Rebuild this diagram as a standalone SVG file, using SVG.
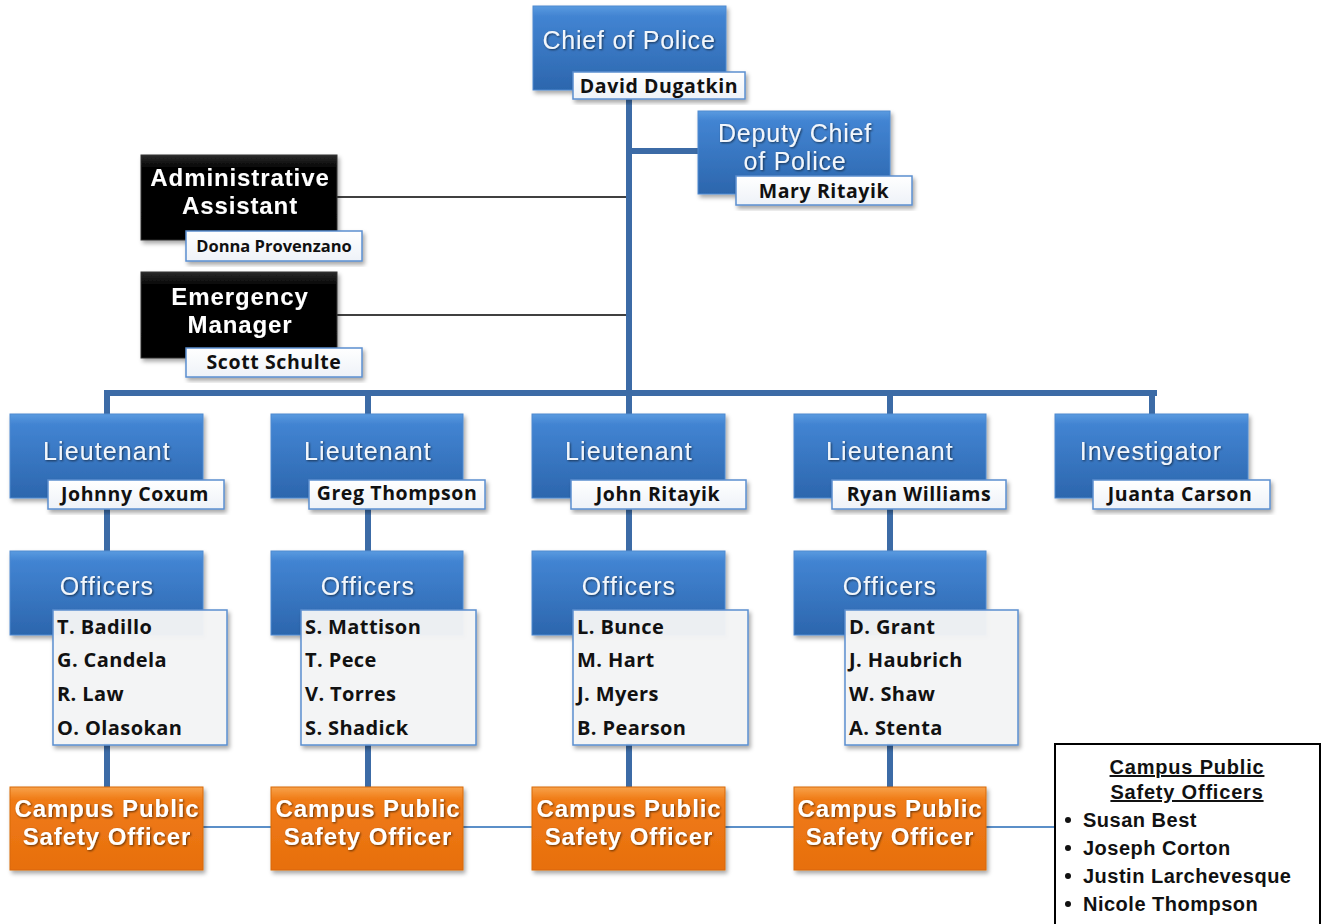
<svg xmlns="http://www.w3.org/2000/svg" width="1322" height="924" viewBox="0 0 1322 924">
<defs>
<linearGradient id="gBlue" x1="0" y1="0" x2="0" y2="1">
<stop offset="0" stop-color="#5a9be0"/>
<stop offset="0.12" stop-color="#4284d2"/>
<stop offset="1" stop-color="#2c66ad"/>
</linearGradient>
<linearGradient id="gBlack" x1="0" y1="0" x2="0" y2="1">
<stop offset="0" stop-color="#2a2a2a"/>
<stop offset="0.15" stop-color="#050505"/>
<stop offset="1" stop-color="#000"/>
</linearGradient>
<linearGradient id="gOrange" x1="0" y1="0" x2="0" y2="1">
<stop offset="0" stop-color="#f8a24a"/>
<stop offset="0.15" stop-color="#f07b16"/>
<stop offset="1" stop-color="#e76f0e"/>
</linearGradient>
<linearGradient id="gLabel" x1="0" y1="0" x2="0" y2="1">
<stop offset="0" stop-color="#ffffff"/>
<stop offset="1" stop-color="#eef2f8"/>
</linearGradient>
<filter id="sh" x="-10%" y="-10%" width="125%" height="130%">
<feDropShadow dx="2" dy="3" stdDeviation="2" flood-color="#000" flood-opacity="0.35"/>
</filter>
<filter id="tsh" x="-5%" y="-20%" width="115%" height="150%">
<feDropShadow dx="1" dy="1" stdDeviation="0.8" flood-color="#000" flood-opacity="0.6"/>
</filter>
<style>
.blue{fill:url(#gBlue);stroke:#4f8ad0;stroke-width:1;filter:url(#sh)}
.black{fill:url(#gBlack);stroke:#333;stroke-width:1;filter:url(#sh)}
.orange{fill:url(#gOrange);stroke:#d8690c;stroke-width:1;filter:url(#sh)}
.lbl{fill:url(#gLabel);stroke:#5b8fd0;stroke-width:1.5;filter:url(#sh)}
.list{fill:#f4f5f7;fill-opacity:0.95;stroke:#5b8fd0;stroke-width:1.5;filter:url(#sh)}
.title{font-family:"Liberation Sans",Arial,sans-serif;font-size:25px;letter-spacing:1.1px;fill:#f2f6fb;text-anchor:middle;filter:url(#tsh)}
.big{font-size:25px;letter-spacing:0.8px}
.btitle{font-family:"Liberation Sans",Arial,sans-serif;font-size:24px;letter-spacing:0.9px;font-weight:bold;fill:#fff;text-anchor:middle;filter:url(#tsh)}
.name{font-family:"Open Sans","Liberation Sans",sans-serif;font-size:19.5px;letter-spacing:0.6px;font-weight:bold;fill:#111;text-anchor:middle}
.small{font-size:16.5px;letter-spacing:0px}
.item{font-family:"Open Sans","Liberation Sans",sans-serif;font-size:20px;letter-spacing:0.4px;font-weight:bold;fill:#111}
.trunk{stroke:#3c6ba6;stroke-width:6;fill:none}
.thin{stroke:#000;stroke-width:1.5;fill:none}
.tblue{stroke:#5b8fc8;stroke-width:2;fill:none}
.leg{font-family:"Liberation Sans",Arial,sans-serif;font-size:20px;letter-spacing:0.5px;font-weight:bold;fill:#111}
.legh{text-anchor:middle;text-decoration:underline;letter-spacing:0.8px}
</style>
</defs>
<rect width="1322" height="924" fill="#fff"/>

<g id="connectors">
<line class="trunk" x1="629" y1="95" x2="629" y2="396"/>
<line class="trunk" x1="629" y1="151" x2="700" y2="151"/>
<line class="thin" x1="337" y1="197" x2="626" y2="197"/>
<line class="thin" x1="337" y1="315" x2="626" y2="315"/>
<line class="trunk" x1="104" y1="393" x2="1157" y2="393"/>
<line class="trunk" x1="107" y1="390" x2="107" y2="416"/>
<line class="trunk" x1="368" y1="390" x2="368" y2="416"/>
<line class="trunk" x1="629" y1="390" x2="629" y2="416"/>
<line class="trunk" x1="890" y1="390" x2="890" y2="416"/>
<line class="trunk" x1="1152" y1="390" x2="1152" y2="416"/>
<line class="trunk" x1="107" y1="505" x2="107" y2="553"/>
<line class="trunk" x1="368" y1="505" x2="368" y2="553"/>
<line class="trunk" x1="629" y1="505" x2="629" y2="553"/>
<line class="trunk" x1="890" y1="505" x2="890" y2="553"/>
<line class="trunk" x1="107" y1="743" x2="107" y2="789"/>
<line class="trunk" x1="368" y1="743" x2="368" y2="789"/>
<line class="trunk" x1="629" y1="743" x2="629" y2="789"/>
<line class="trunk" x1="890" y1="743" x2="890" y2="789"/>
<line class="tblue" x1="203" y1="827" x2="271" y2="827"/>
<line class="tblue" x1="463" y1="827" x2="532" y2="827"/>
<line class="tblue" x1="725" y1="827" x2="794" y2="827"/>
<line class="tblue" x1="986" y1="827" x2="1055" y2="827"/>
</g>

<g id="chief">
<rect class="blue" x="533" y="6" width="193" height="84"/>
<text class="title big" x="629" y="49">Chief of Police</text>
<rect class="lbl" x="573" y="72" width="172" height="27"/>
<text class="name" x="659" y="93">David Dugatkin</text>
</g>

<g id="deputy">
<rect class="blue" x="698" y="111" width="192" height="83"/>
<text class="title big" x="795" y="142">Deputy Chief</text>
<text class="title big" x="795" y="170">of Police</text>
<rect class="lbl" x="736" y="176" width="176" height="29"/>
<text class="name" x="824" y="198">Mary Ritayik</text>
</g>

<g id="admin">
<rect class="black" x="141" y="155" width="196" height="85"/>
<text class="btitle" x="240" y="186">Administrative</text>
<text class="btitle" x="240" y="214">Assistant</text>
<rect class="lbl" x="186" y="231" width="176" height="30"/>
<text class="name small" x="274" y="252">Donna Provenzano</text>
</g>

<g id="emergency">
<rect class="black" x="141" y="272" width="196" height="86"/>
<text class="btitle" x="240" y="305">Emergency</text>
<text class="btitle" x="240" y="333">Manager</text>
<rect class="lbl" x="186" y="348" width="176" height="29"/>
<text class="name" x="274" y="369">Scott Schulte</text>
</g>

<g id="lt1">
<rect class="blue" x="10" y="414" width="193" height="84"/>
<text class="title" x="107" y="460">Lieutenant</text>
<rect class="lbl" x="48" y="480" width="176" height="29"/>
<text class="name" x="135" y="501">Johnny Coxum</text>
</g>
<g id="lt2">
<rect class="blue" x="271" y="414" width="192" height="84"/>
<text class="title" x="368" y="460">Lieutenant</text>
<rect class="lbl" x="309" y="480" width="176" height="29"/>
<text class="name" x="397" y="500">Greg Thompson</text>
</g>
<g id="lt3">
<rect class="blue" x="532" y="414" width="193" height="84"/>
<text class="title" x="629" y="460">Lieutenant</text>
<rect class="lbl" x="571" y="480" width="175" height="29"/>
<text class="name" x="658" y="501">John Ritayik</text>
</g>
<g id="lt4">
<rect class="blue" x="794" y="414" width="192" height="84"/>
<text class="title" x="890" y="460">Lieutenant</text>
<rect class="lbl" x="832" y="480" width="174" height="29"/>
<text class="name" x="919" y="501">Ryan Williams</text>
</g>
<g id="investigator">
<rect class="blue" x="1055" y="414" width="193" height="84"/>
<text class="title" x="1151" y="460">Investigator</text>
<rect class="lbl" x="1093" y="480" width="177" height="29"/>
<text class="name" x="1180" y="501">Juanta Carson</text>
</g>

<g id="off1">
<rect class="blue" x="10" y="551" width="193" height="84"/>
<text class="title" x="107" y="595">Officers</text>
<rect class="list" x="53" y="610" width="174" height="135"/>
<text class="item" x="57" y="634">T. Badillo</text>
<text class="item" x="57" y="667">G. Candela</text>
<text class="item" x="57" y="701">R. Law</text>
<text class="item" x="57" y="735">O. Olasokan</text>
</g>
<g id="off2">
<rect class="blue" x="271" y="551" width="192" height="84"/>
<text class="title" x="368" y="595">Officers</text>
<rect class="list" x="301" y="610" width="175" height="135"/>
<text class="item" x="305" y="634">S. Mattison</text>
<text class="item" x="305" y="667">T. Pece</text>
<text class="item" x="305" y="701">V. Torres</text>
<text class="item" x="305" y="735">S. Shadick</text>
</g>
<g id="off3">
<rect class="blue" x="532" y="551" width="193" height="84"/>
<text class="title" x="629" y="595">Officers</text>
<rect class="list" x="573" y="610" width="175" height="135"/>
<text class="item" x="577" y="634">L. Bunce</text>
<text class="item" x="577" y="667">M. Hart</text>
<text class="item" x="577" y="701">J. Myers</text>
<text class="item" x="577" y="735">B. Pearson</text>
</g>
<g id="off4">
<rect class="blue" x="794" y="551" width="192" height="84"/>
<text class="title" x="890" y="595">Officers</text>
<rect class="list" x="845" y="610" width="173" height="135"/>
<text class="item" x="849" y="634">D. Grant</text>
<text class="item" x="849" y="667">J. Haubrich</text>
<text class="item" x="849" y="701">W. Shaw</text>
<text class="item" x="849" y="735">A. Stenta</text>
</g>

<g id="cpso1">
<rect class="orange" x="10" y="787" width="193" height="83"/>
<text class="btitle" x="107" y="817">Campus Public</text>
<text class="btitle" x="107" y="845">Safety Officer</text>
</g>
<g id="cpso2">
<rect class="orange" x="271" y="787" width="192" height="83"/>
<text class="btitle" x="368" y="817">Campus Public</text>
<text class="btitle" x="368" y="845">Safety Officer</text>
</g>
<g id="cpso3">
<rect class="orange" x="532" y="787" width="193" height="83"/>
<text class="btitle" x="629" y="817">Campus Public</text>
<text class="btitle" x="629" y="845">Safety Officer</text>
</g>
<g id="cpso4">
<rect class="orange" x="794" y="787" width="192" height="83"/>
<text class="btitle" x="890" y="817">Campus Public</text>
<text class="btitle" x="890" y="845">Safety Officer</text>
</g>

<g id="legend">
<rect x="1055" y="744" width="265" height="182" fill="#fff" stroke="#000" stroke-width="2"/>
<text class="leg legh" x="1187" y="774">Campus Public</text>
<text class="leg legh" x="1187" y="799">Safety Officers</text>
<circle cx="1068" cy="820" r="3" fill="#111"/>
<circle cx="1068" cy="848" r="3" fill="#111"/>
<circle cx="1068" cy="876" r="3" fill="#111"/>
<circle cx="1068" cy="904" r="3" fill="#111"/>
<text class="leg" x="1083" y="827">Susan Best</text>
<text class="leg" x="1083" y="855">Joseph Corton</text>
<text class="leg" x="1083" y="883">Justin Larchevesque</text>
<text class="leg" x="1083" y="911">Nicole Thompson</text>
</g>
</svg>
